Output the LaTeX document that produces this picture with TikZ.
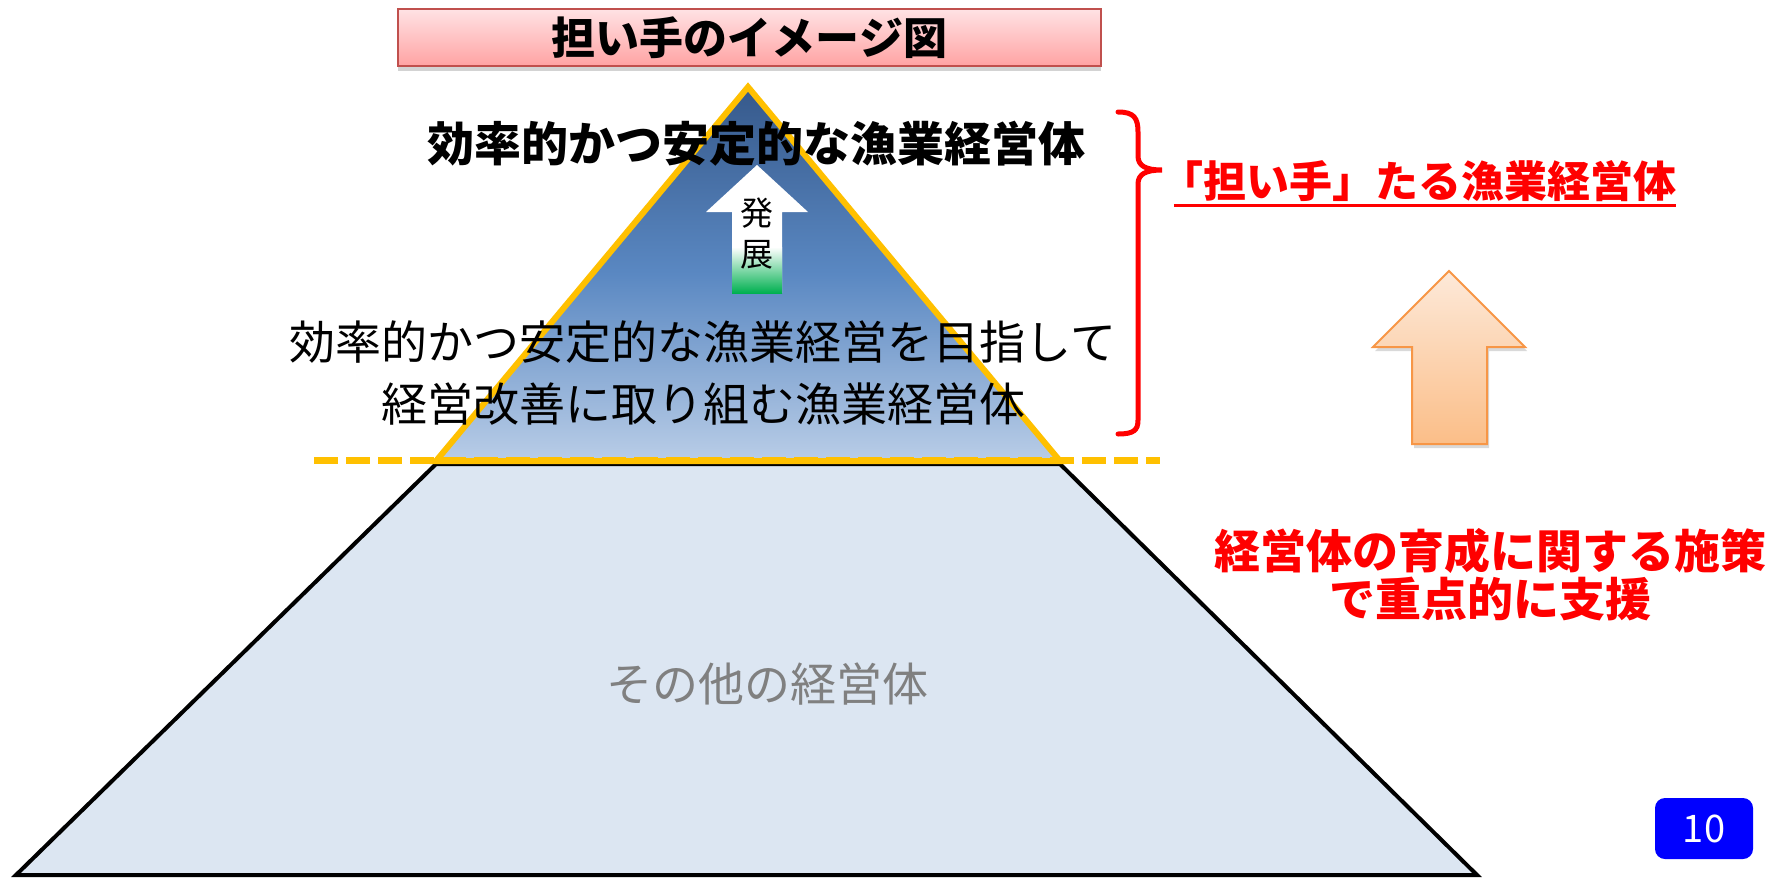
\documentclass[tikz,border=0pt]{standalone}
\usepackage{fontspec}
\setmainfont{Noto Sans CJK JP}
\usepackage{tikz}
\usetikzlibrary{calc,positioning,shadows}
\definecolor{titletop}{HTML}{FFE2E4}
\definecolor{titlebot}{HTML}{FFA3A3}
\definecolor{titleline}{HTML}{C0504D}
\definecolor{tritop}{HTML}{36598B}
\definecolor{trimid}{HTML}{5A88C2}
\definecolor{tribot}{HTML}{B9CDE7}
\definecolor{gold}{HTML}{FFC000}
\definecolor{basefill}{HTML}{DCE6F2}
\definecolor{growgreen}{HTML}{00B050}
\definecolor{peachtop}{HTML}{FDE9D9}
\definecolor{peachbot}{HTML}{FBBE88}
\definecolor{peachline}{HTML}{F79646}
\definecolor{alertred}{HTML}{FF0000}
\definecolor{othergray}{HTML}{808080}
\tikzset{
  heading/.style={
    draw=titleline,
    line width=1.5pt,
    top color=titletop,
    bottom color=titlebot,
    minimum width=703pt,
    minimum height=57pt,
    drop shadow={opacity=0.35,shadow xshift=0pt,shadow yshift=-5pt},
    font=\bfseries\fontsize{44}{44}\selectfont
  },
  goldline/.style={draw=gold,line width=6pt,line join=miter},
  golddash/.style={draw=gold,line width=7pt,dash pattern=on 24pt off 8pt},
  bigtext/.style={font=\fontsize{46}{62}\selectfont,align=center,inner sep=0pt},
  bigbold/.style={font=\bfseries\fontsize{47}{52}\selectfont,align=center,inner sep=0pt},
  redbold/.style={text=alertred,font=\bfseries\fontsize{46}{48}\selectfont,align=center,inner sep=0pt},
  redbrace/.style={draw=alertred,line width=5pt,line cap=round},
  upbox/.style={
    draw=peachline,
    line width=2pt,
    top color=peachtop,
    bottom color=peachbot,
    drop shadow={opacity=0.3,shadow xshift=2pt,shadow yshift=-4pt}
  },
  pagebox/.style={fill=blue,rounded corners=10pt,minimum width=98pt,minimum height=61pt,text=white,font=\fontsize{38}{38}\selectfont}
}
\begin{document}
\begin{tikzpicture}[x=1pt,y=-1pt]
  \useasboundingbox (0,0) rectangle (1774,878);
  \coordinate (apex) at (748,87);
  \coordinate (tl) at (436,461);
  \coordinate (tr) at (1060,461);
  \coordinate (bl) at (16,875);
  \coordinate (br) at (1477,875);

  \draw[fill=basefill,line width=4pt,line join=miter] (436,464) -- (1060,464) -- (br) -- (bl) -- cycle;
  \node[font=\fontsize{46}{46}\selectfont,text=othergray] (others) at (767,684) {その他の経営体};

  \shade[top color=tritop,bottom color=tribot,middle color=trimid] (apex) -- (tr) -- (tl) -- cycle;
  \draw[goldline] (apex) -- (tr) -- (tl) -- cycle;
  \draw[golddash] (314,460) -- (1160,460);

  \fill[white] (757,165) -- (808,212) -- (782,212) -- (782,293) -- (732,293) -- (732,212) -- (706,212) -- cycle;
  \shade[top color=white,bottom color=growgreen] (732,247) rectangle (782,293);
  \node[font=\fontsize{33}{41}\selectfont,align=center,inner sep=0pt] (grow) at (757,234) {発\\展};

  \node[bigbold] (goal) at (756,144) {効率的かつ安定的な漁業経営体};
  \node[bigtext] (aim) at (703,373) {効率的かつ安定的な漁業経営を目指して\\経営改善に取り組む漁業経営体};

  \node[heading] (title) at (749.5,37.5) {担い手のイメージ図};

  \draw[redbrace] (1118,112) .. controls (1134,112) and (1138,118) .. (1138,132)
    -- (1138,156) .. controls (1138,166) and (1146,170) .. (1162,170)
    .. controls (1146,170) and (1138,174) .. (1138,184)
    -- (1138,420) .. controls (1138,430) and (1134,434) .. (1118,434);
  \node[text=alertred,font=\bfseries\fontsize{43}{43}\selectfont,inner sep=0pt] (ninaite) at (1418,181) {「担い手」たる漁業経営体};
  \draw[alertred,line width=2.5pt] ($(ninaite.base west)+(14,8)$) -- ($(ninaite.base east)+(0,8)$);

  \path[upbox] (1449,271) -- (1525,347) -- (1487,347) -- (1487,444) -- (1412,444) -- (1412,347) -- (1373,347) -- cycle;
  \node[redbold] (support) at (1490,575) {経営体の育成に関する施策\\で重点的に支援};

  \node[pagebox] (page) at (1704,828.5) {10};
\end{tikzpicture}
\end{document}
